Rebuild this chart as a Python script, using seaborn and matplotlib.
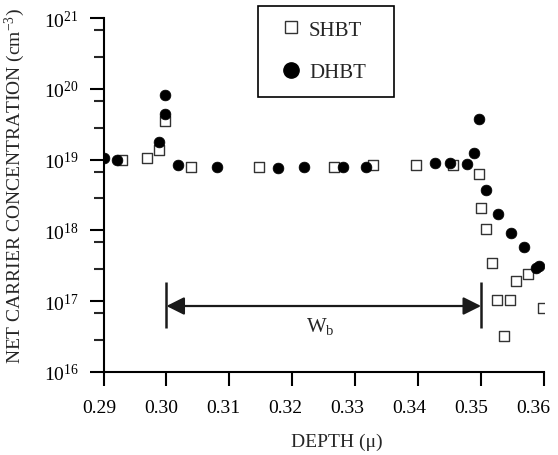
import numpy as np
import pandas as pd
import matplotlib
matplotlib.use("Agg")
import matplotlib.pyplot as plt
from matplotlib.lines import Line2D
from matplotlib.patches import Rectangle
from matplotlib.ticker import FixedLocator, LogFormatterMathtext, NullFormatter
from matplotlib.transforms import ScaledTranslation
import seaborn as sns

# Depth profile (microns) and net carrier concentration (cm^-3)
shbt_depth = [0.2929, 0.2969, 0.2988, 0.2998, 0.3039, 0.3147, 0.3267, 0.3328,
              0.3396, 0.3456, 0.3497, 0.3500, 0.3508, 0.3517, 0.3526, 0.3536,
              0.3546, 0.3556, 0.3575, 0.3598]
shbt_conc = [9.8e18, 1.05e19, 1.35e19, 3.55e19, 7.9e18, 7.8e18, 7.8e18, 8.3e18,
             8.3e18, 8.3e18, 6.3e18, 2.05e18, 1.05e18, 3.4e17, 1.05e17, 3.2e16,
             1.05e17, 1.95e17, 2.4e17, 7.9e16]

dhbt_depth = [0.2900, 0.2922, 0.2988, 0.2998, 0.2998, 0.3018, 0.3080, 0.3177,
              0.3218, 0.3280, 0.3317, 0.3426, 0.3450, 0.3478, 0.3489, 0.3497,
              0.3508, 0.3527, 0.3548, 0.3568, 0.3587, 0.3592]
dhbt_conc = [1.05e19, 9.8e18, 1.8e19, 4.4e19, 8.1e19, 8.3e18, 7.9e18, 7.6e18,
             7.8e18, 7.9e18, 7.9e18, 8.9e18, 8.9e18, 8.7e18, 1.25e19, 3.8e19,
             3.7e18, 1.7e18, 9.3e17, 5.75e17, 2.9e17, 3.1e17]

series_names = ["SHBT", "DHBT"]
x_ticks = [0.29, 0.30, 0.31, 0.32, 0.33, 0.34, 0.35, 0.36]
base_width = (0.30, 0.35)      # W_b extent
base_arrow_level = 8.5e16

sns.set_style("ticks")
plt.rcParams["font.family"] = ["Liberation Serif", "DejaVu Serif"]
plt.rcParams["mathtext.fontset"] = "custom"
plt.rcParams["mathtext.rm"] = "Liberation Serif"
plt.rcParams["mathtext.it"] = "Liberation Serif:italic"
plt.rcParams["axes.unicode_minus"] = False

fig = plt.figure(figsize=(5.58, 4.56), dpi=100)
ax = fig.add_axes([103.5 / 558, 1 - 372.7 / 456, (544 - 103.5) / 558, (372.7 - 19.3) / 456])

shbt = pd.DataFrame({"depth": shbt_depth, "conc": shbt_conc})
dhbt = pd.DataFrame({"depth": dhbt_depth, "conc": dhbt_conc})

sns.scatterplot(data=shbt, x="depth", y="conc", marker="s", s=52,
                facecolor="white", edgecolor="#333333", linewidth=1.0,
                ax=ax, legend=False, zorder=3)
sns.scatterplot(data=dhbt, x="depth", y="conc", marker="o", s=60,
                color="black", edgecolor="black", linewidth=0.5,
                ax=ax, legend=False, zorder=4)

ax.set_yscale("log")
ax.set_xlim(0.29, 0.36)
ax.set_ylim(1e16, 1e21)
ax.set_xticks(x_ticks)
ax.set_xticklabels([f"{t:.2f}" for t in x_ticks])
ax.yaxis.set_major_locator(FixedLocator([1e16, 1e17, 1e18, 1e19, 1e20, 1e21]))
ax.yaxis.set_major_formatter(LogFormatterMathtext())
minor = []
for k in range(17, 22):
    minor += [10 ** (k - 0.17), 10 ** (k - 0.545)]
ax.yaxis.set_minor_locator(FixedLocator(minor))
ax.yaxis.set_minor_formatter(NullFormatter())

for side in ["top", "right"]:
    ax.spines[side].set_visible(False)
for side in ["left", "bottom"]:
    ax.spines[side].set_linewidth(1.5)
    ax.spines[side].set_color("black")

ax.tick_params(axis="both", which="major", direction="out", length=10, width=1.5,
               labelsize=14, color="black", labelcolor="black")
ax.tick_params(axis="x", pad=10)
ax.tick_params(axis="y", pad=8)
ax.tick_params(axis="y", which="minor", direction="out", length=7.5, width=1.5)

# Tick labels sit on a slightly tighter pitch than the ticks themselves
for i, lab in enumerate(ax.get_xticklabels()):
    dx = (-4.5 - 0.86 * i) / 100.0
    lab.set_transform(lab.get_transform() + ScaledTranslation(dx, 0, fig.dpi_scale_trans))

ax.set_xlabel("DEPTH (\u03bc)", fontsize=14)
ax.xaxis.set_label_coords(0.53, -0.172)
ax.set_ylabel("NET CARRIER CONCENTRATION (cm$^{-3}$)", fontsize=14)
ax.yaxis.set_label_coords(-0.1735, 0.528)

# Base width marker
ax.annotate("", xy=(base_width[0], base_arrow_level), xytext=(base_width[1], base_arrow_level),
            arrowprops=dict(arrowstyle="<|-|>", lw=1.6, color="#1a1a1a",
                            mutation_scale=27, shrinkA=0, shrinkB=0), zorder=2)
ax.vlines(list(base_width), 4.2e16, 1.86e17, color="#1a1a1a", lw=1.8, zorder=2)
ax.text(0.3245, 4.5e16, "W$_{\\mathrm{b}}$", fontsize=15, ha="center", va="center")

ax.set_facecolor("white")
fig.patch.set_facecolor("white")

# Legend
handles = [
    Line2D([], [], ls="none", marker="s", ms=9, mfc="white", mec="#333333", mew=1.0),
    Line2D([], [], ls="none", marker="o", ms=11, mfc="black", mec="black"),
]
fig.legend(handles, series_names, loc="upper left",
           bbox_to_anchor=(281 / 558, 1 - 21 / 456), frameon=False,
           fontsize=15, handlelength=1.0, handletextpad=0.35,
           labelspacing=1.1, borderpad=0, borderaxespad=0)
fig.add_artist(Rectangle((258.3 / 558, 1 - 97.7 / 456), 136 / 558, 90.4 / 456,
                         transform=fig.transFigure, fill=False, lw=1.2, ec="black"))

fig.savefig("out.png", dpi=100, facecolor="white")
